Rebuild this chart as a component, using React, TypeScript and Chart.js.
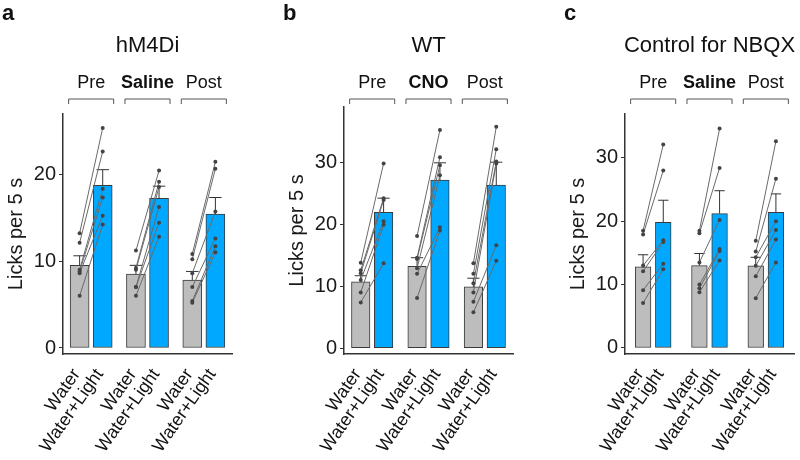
import React, { useEffect, useRef } from "react";
import { Chart, registerables } from "chart.js";
Chart.register(...registerables);

const FONT = "'Liberation Sans', Arial, Helvetica, sans-serif";

const barLabels = ["Water", "Water+Light"];

// ---- Panel a : hM4Di ----
const conditionsA = ["Pre", "Saline", "Post"];
const meanWaterA = [9.5, 8.5, 7.8];
const semWaterA = [1.1, 1.0, 1.0];
const meanLightA = [18.7, 17.2, 15.4];
const semLightA = [1.8, 1.4, 1.9];
const subjWaterA = [
  [13.2, 12.1, 9.0, 8.8, 8.6, 6.0],
  [11.2, 9.2, 9.0, 7.0, 7.0, 6.0],
  [10.8, 10.2, 8.6, 7.0, 5.4, 5.2],
];
const subjLightA = [
  [25.3, 22.6, 18.3, 17.3, 15.2, 14.2],
  [20.4, 19.1, 18.5, 16.2, 14.4, 12.8],
  [21.4, 20.6, 15.7, 12.6, 11.7, 11.0],
];
const yTicksA = [0, 10, 20];

// ---- Panel b : WT ----
const conditionsB = ["Pre", "CNO", "Post"];
const meanWaterB = [10.7, 13.2, 9.9];
const semWaterB = [1.0, 1.4, 1.4];
const meanLightB = [21.9, 27.1, 26.3];
const semLightB = [2.3, 2.8, 3.7];
const subjWaterB = [
  [13.8, 12.6, 12.1, 11.0, 9.0, 7.4],
  [18.1, 14.6, 14.4, 12.9, 12.0, 8.1],
  [13.7, 12.0, 10.5, 9.0, 7.5, 5.8],
];
const subjLightB = [
  [29.8, 24.2, 23.9, 20.5, 19.9, 13.7],
  [35.2, 30.8, 29.5, 27.9, 19.5, 19.0],
  [35.7, 32.1, 30.1, 29.8, 16.6, 14.1],
];
const yTicksB = [0, 10, 20, 30];

// ---- Panel c : Control for NBQX ----
const conditionsC = ["Pre", "Saline", "Post"];
const meanWaterC = [12.8, 13.0, 12.95];
const semWaterC = [1.9, 1.9, 1.35];
const meanLightC = [19.8, 21.2, 21.4];
const semLightC = [3.5, 3.6, 2.9];
const subjWaterC = [
  [18.5, 17.9, 13.0, 12.1, 9.1, 7.1],
  [18.5, 18.1, 13.5, 10.0, 9.4, 8.8],
  [16.9, 15.2, 14.3, 12.95, 11.3, 7.85],
];
const subjLightC = [
  [32.1, 28.0, 17.0, 16.7, 13.3, 12.4],
  [34.6, 28.4, 20.2, 15.6, 15.3, 13.8],
  [32.6, 26.7, 20.0, 18.6, 17.1, 13.5],
];
const yTicksC = [0, 10, 20, 30];

type Panel = {
  letter: string;
  title: string;
  conditions: string[];
  meanWater: number[];
  semWater: number[];
  meanLight: number[];
  semLight: number[];
  subjWater: number[][];
  subjLight: number[][];
  yTicks: number[];
  yMin: number;
  yMax: number;
  left: number;
  top: number;
  pairOffset: number; // offset of each bar from category centre, in category units
  barPx: number;
};

const panels: Panel[] = [
  {
    letter: "a", title: "hM4Di", conditions: conditionsA,
    meanWater: meanWaterA, semWater: semWaterA, meanLight: meanLightA, semLight: semLightA,
    subjWater: subjWaterA, subjLight: subjLightA, yTicks: yTicksA,
    yMin: -0.69, yMax: 26.9, left: 0, top: 114, pairOffset: 0.205, barPx: 19,
  },
  {
    letter: "b", title: "WT", conditions: conditionsB,
    meanWater: meanWaterB, semWater: semWaterB, meanLight: meanLightB, semLight: semLightB,
    subjWater: subjWaterB, subjLight: subjLightB, yTicks: yTicksB,
    yMin: -0.92, yMax: 38.9, left: 281, top: 107, pairOffset: 0.203, barPx: 18.5,
  },
  {
    letter: "c", title: "Control for NBQX", conditions: conditionsC,
    meanWater: meanWaterC, semWater: semWaterC, meanLight: meanLightC, semLight: semLightC,
    subjWater: subjWaterC, subjLight: subjLightC, yTicks: yTicksC,
    yMin: -0.95, yMax: 36.9, left: 562, top: 114, pairOffset: 0.179, barPx: 15.7,
  },
];

const CANVAS_W = 238;
const CANVAS_H = 460;
const LABEL_ANGLE = (55 * Math.PI) / 180;

function makePlugin(p: Panel) {
  return {
    id: "annot",
    beforeDatasetsDraw(chart: any) {
      const ctx = chart.ctx;
      const y = chart.scales.y;
      const means = [p.meanWater, p.meanLight];
      const sems = [p.semWater, p.semLight];
      ctx.save();
      ctx.strokeStyle = "#333";
      ctx.lineWidth = 1;
      for (let d = 0; d < 2; d++) {
        const meta = chart.getDatasetMeta(d);
        meta.data.forEach((el: any, i: number) => {
          const top = y.getPixelForValue(means[d][i] + sems[d][i]);
          const half = el.width * 0.33;
          ctx.beginPath();
          ctx.moveTo(el.x, el.y);
          ctx.lineTo(el.x, top);
          ctx.moveTo(el.x - half, top);
          ctx.lineTo(el.x + half, top);
          ctx.stroke();
        });
      }
      ctx.restore();
    },
    afterDraw(chart: any) {
      const ctx = chart.ctx;
      const area = chart.chartArea;
      const xs = chart.scales.x;
      ctx.save();
      ctx.fillStyle = "#111";
      // panel letter
      ctx.font = `bold 22px ${FONT}`;
      ctx.textAlign = "left";
      ctx.textBaseline = "alphabetic";
      ctx.fillText(p.letter, 2, 20);
      // title
      ctx.font = `22px ${FONT}`;
      ctx.textAlign = "center";
      ctx.fillText(p.title, (area.left + area.right) / 2, 52);
      // brackets + condition labels
      const catW = (area.right - area.left) / p.conditions.length;
      ctx.strokeStyle = "#555";
      ctx.lineWidth = 1;
      p.conditions.forEach((c, i) => {
        const cx = xs.getPixelForValue(i);
        const half = catW * 0.4;
        ctx.beginPath();
        ctx.moveTo(cx - half, 104);
        ctx.lineTo(cx - half, 99);
        ctx.lineTo(cx + half, 99);
        ctx.lineTo(cx + half, 104);
        ctx.stroke();
        ctx.font = `${i === 1 ? "bold " : ""}18px ${FONT}`;
        ctx.fillText(c, cx, 88);
      });
      // rotated bar labels
      ctx.font = `18px ${FONT}`;
      ctx.textAlign = "right";
      ctx.textBaseline = "middle";
      for (let d = 0; d < 2; d++) {
        const meta = chart.getDatasetMeta(d);
        meta.data.forEach((el: any) => {
          ctx.save();
          ctx.translate(el.x - 3, area.bottom + 17);
          ctx.rotate(-LABEL_ANGLE);
          ctx.fillText(barLabels[d], 0, 0);
          ctx.restore();
        });
      }
      ctx.restore();
    },
  };
}

function PanelChart({ p }: { p: Panel }) {
  const ref = useRef<HTMLCanvasElement>(null);
  useEffect(() => {
    const canvas = ref.current;
    if (!canvas) return;
    const xw = (i: number) => i + 0.5 - p.pairOffset;
    const xl = (i: number) => i + 0.5 + p.pairOffset;
    const pairData: any[] = [];
    p.subjWater.forEach((arr, i) =>
      arr.forEach((w, k) => {
        pairData.push({ x: xw(i), y: w });
        pairData.push({ x: xl(i), y: p.subjLight[i][k] });
        pairData.push({ x: xl(i), y: null });
      })
    );
    const barBase = {
      borderColor: "#3a3a3a",
      borderWidth: 1,
      borderSkipped: false,
      grouped: false,
      barThickness: p.barPx,
      xAxisID: "x2",
      yAxisID: "y",
      order: 2,
    };
    const chart = new Chart(canvas, {
      type: "bar",
      data: {
        labels: p.conditions,
        datasets: [
          {
            ...barBase,
            label: barLabels[0],
            data: p.meanWater.map((v, i) => ({ x: xw(i), y: v })),
            backgroundColor: "#bdbdbd",
          } as any,
          {
            ...barBase,
            label: barLabels[1],
            data: p.meanLight.map((v, i) => ({ x: xl(i), y: v })),
            backgroundColor: "#00a8ff",
          } as any,
          {
            type: "line",
            label: "subjects",
            data: pairData,
            xAxisID: "x2",
            yAxisID: "y",
            borderColor: "#6a6a6a",
            borderWidth: 1,
            pointRadius: 2,
            pointBackgroundColor: "#444",
            pointBorderWidth: 0,
            spanGaps: false,
            order: 0,
          } as any,
        ],
      },
      options: {
        responsive: false,
        maintainAspectRatio: false,
        animation: false,
        devicePixelRatio: 1,
        layout: { padding: { left: 0, right: 6, top: p.top, bottom: 0 } },
        plugins: { legend: { display: false }, tooltip: { enabled: false }, title: { display: false } },
        scales: {
          x: {
            type: "category",
            offset: true,
            ticks: { display: false },
            grid: { display: true, drawOnChartArea: false, drawTicks: false },
            border: { display: true, color: "#333", width: 1.5 },
            afterFit: (s: any) => { s.height = 106; },
          },
          x2: {
            type: "linear",
            display: false,
            min: 0,
            max: 3,
            offset: false,
            afterBuildTicks: (s: any) => { s.ticks = [{ value: 0 }, { value: 3 }]; },
          },
          y: {
            type: "linear",
            min: p.yMin,
            max: p.yMax,
            afterBuildTicks: (s: any) => { s.ticks = p.yTicks.map((v) => ({ value: v })); },
            afterFit: (s: any) => { s.width = 63; },
            ticks: { font: { family: FONT, size: 20 }, color: "#1a1a1a", padding: 3 },
            grid: { drawOnChartArea: false, drawTicks: true, tickLength: 4, color: "#333", lineWidth: 1 },
            border: { display: true, color: "#333", width: 1.5 },
            title: {
              display: true,
              text: "Licks per 5 s",
              font: { family: FONT, size: 20 },
              color: "#1a1a1a",
              padding: { top: 4, bottom: 0 },
            },
          },
        } as any,
      },
      plugins: [makePlugin(p)],
    } as any);
    return () => chart.destroy();
  }, [p]);
  return (
    <canvas
      ref={ref}
      width={CANVAS_W}
      height={CANVAS_H}
      style={{ position: "absolute", left: p.left, top: 0, width: CANVAS_W, height: CANVAS_H }}
    />
  );
}

export default function App() {
  return (
    <div style={{ position: "fixed", left: 0, top: 0, width: 800, height: 460, background: "#fff", overflow: "hidden" }}>
      {panels.map((p) => (
        <PanelChart key={p.letter} p={p} />
      ))}
    </div>
  );
}
